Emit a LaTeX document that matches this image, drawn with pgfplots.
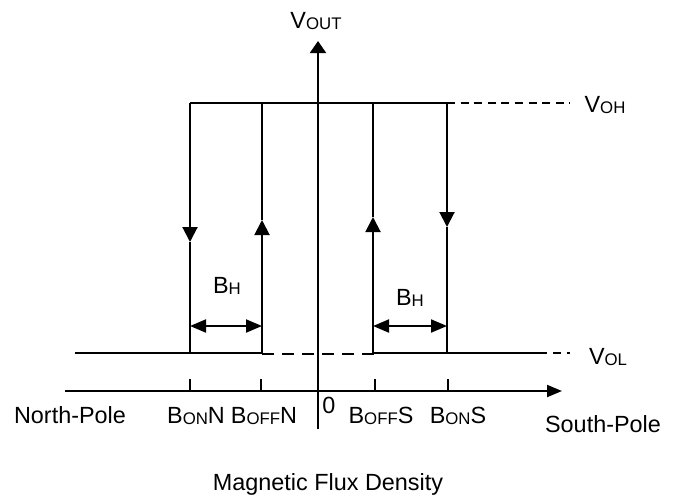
\documentclass[border=0pt]{standalone}
\usepackage{pgfplots}
\pgfplotsset{compat=1.18}
\usepackage{fontspec}
\setmainfont{Liberation Sans}
\usetikzlibrary{arrows.meta}
\newcommand\sub[1]{\raisebox{-0.9pt}{\fontsize{8.4}{9}\selectfont #1}}
\begin{document}
\begin{tikzpicture}
\begin{axis}[
  scale only axis, width=342pt, height=250pt,
  xmin=0, xmax=684, ymin=0, ymax=500, y dir=reverse,
  hide axis, clip=false,
  cycle list={{black,solid,mark=none}},
  every axis plot/.append style={black, line width=1pt, mark=none},
  nodes={font=\fontsize{11.7}{14}\selectfont, inner sep=0pt, anchor=base},
]
% axes
\addplot[-{Triangle[length=6pt,width=8pt]}] coordinates {(318,429) (318,41)};
\addplot[-{Triangle[length=7.5pt,width=6pt]}] coordinates {(65,391) (562,391)};
% ticks
\addplot[solid] coordinates {(190,391) (190,379)};
\addplot[solid] coordinates {(261,391) (261,379)};
\addplot[solid] coordinates {(375,391) (375,379)};
\addplot[solid] coordinates {(448,391) (448,379)};
% VOH line
\addplot[solid] coordinates {(190,103) (447,103)};
\addplot[dash pattern=on 4pt off 2.8pt] coordinates {(447,103) (570,103)};
% VOL line
\addplot[solid] coordinates {(75,353) (262,353)};
\addplot[dash pattern=on 6pt off 4pt] coordinates {(262,354) (374,354)};
\addplot[solid] coordinates {(374,353) (539,353)};
\addplot[dash pattern=on 4pt off 3pt] coordinates {(539,353) (570,353)};
% verticals
\addplot[-{Triangle[length=7.5pt,width=7.5pt]}] coordinates {(190,103) (190,242)};
\addplot[solid] coordinates {(190,242) (190,353)};
\addplot[-{Triangle[length=7.5pt,width=7.5pt]}] coordinates {(262,353) (262,220)};
\addplot[solid] coordinates {(262,220) (262,103)};
\addplot[-{Triangle[length=7.5pt,width=7.5pt]}] coordinates {(373,353) (373,217)};
\addplot[solid] coordinates {(373,217) (373,103)};
\addplot[-{Triangle[length=7.5pt,width=7.5pt]}] coordinates {(447,103) (447,227)};
\addplot[solid] coordinates {(447,227) (447,353)};
% BH arrows
\addplot[{Triangle[length=8pt,width=6.5pt]}-{Triangle[length=8pt,width=6.5pt]}] coordinates {(190,326) (262,326)};
\addplot[{Triangle[length=8pt,width=6.5pt]}-{Triangle[length=8pt,width=6.5pt]}] coordinates {(373,326) (447,326)};
% labels
\node at (axis cs:316,28) {V\sub{OUT}};
\node at (axis cs:605,112) {V\sub{OH}};
\node at (axis cs:608,364) {V\sub{OL}};
\node at (axis cs:227,293) {B\sub{H}};
\node at (axis cs:410,305) {B\sub{H}};
\node at (axis cs:70,423) {North-Pole};
\node at (axis cs:196,423) {B\sub{ON}N};
\node at (axis cs:264,423) {B\sub{OFF}N};
\node at (axis cs:329,413) {0};
\node at (axis cs:381,423) {B\sub{OFF}S};
\node at (axis cs:458,423) {B\sub{ON}S};
\node at (axis cs:603,432) {South-Pole};
\node at (axis cs:328,490) {Magnetic Flux Density};
\end{axis}
\pgfresetboundingbox
\path (0,0) rectangle (342pt,250pt);
\end{tikzpicture}
\end{document}
